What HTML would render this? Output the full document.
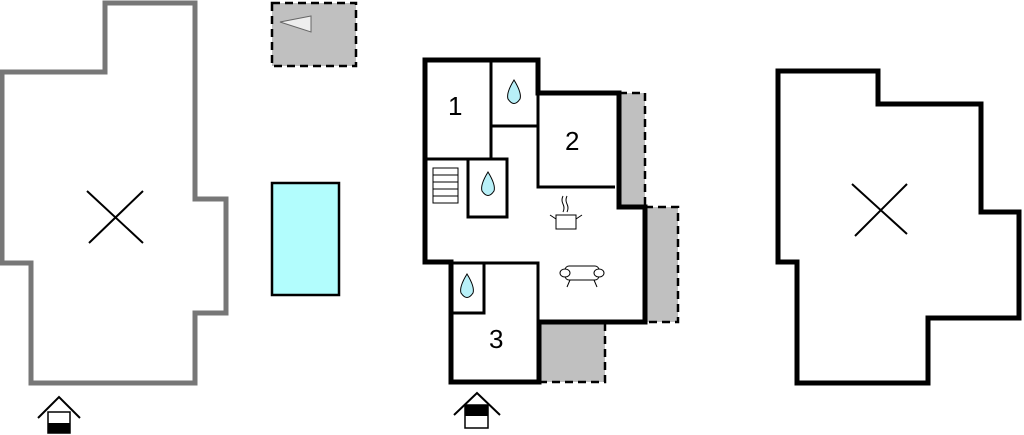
<!DOCTYPE html>
<html><head><style>body{margin:0;background:#fff}svg{display:block}</style></head><body>
<svg width="1024" height="435" viewBox="0 0 1024 435" xmlns="http://www.w3.org/2000/svg" font-family="Liberation Sans, sans-serif">
<!-- left -->
<polygon points="105,3 195,3 195,199 226,199 226,313 195,313 195,383 31,383 31,263 2,263 2,72 105,72" fill="#fff" stroke="#777" stroke-width="5"/>
<path d="M87,191 L143,243 M89,243 L143,191" stroke="#000" stroke-width="2"/>
<rect x="272" y="3" width="84" height="63" fill="#c0c0c0" stroke="#000" stroke-width="2.5" stroke-dasharray="8,5"/>
<polygon points="280,22 311,16 311,32" fill="#eee" stroke="#666" stroke-width="1"/>
<rect x="272" y="183" width="67" height="112" fill="#b2fdfd" stroke="#000" stroke-width="2.5"/>
<path d="M38,418 L59,397 L80,418" fill="none" stroke="#000" stroke-width="2"/>
<rect x="48" y="412" width="22" height="21" fill="#fff" stroke="#000" stroke-width="1.5"/>
<rect x="48" y="423" width="22" height="10" fill="#000"/>
<!-- middle gray -->
<rect x="619" y="93" width="26" height="114" fill="#c0c0c0"/>
<path d="M619,93 H645 V207" fill="none" stroke="#000" stroke-width="2.5" stroke-dasharray="8,5"/>
<rect x="645" y="207" width="33" height="115" fill="#c0c0c0" stroke="#000" stroke-width="2.5" stroke-dasharray="8,5"/>
<rect x="539" y="322" width="66" height="60" fill="#c0c0c0"/>
<path d="M539,382 H605 V322" fill="none" stroke="#000" stroke-width="2.5" stroke-dasharray="8,5"/>
<polygon points="425,60 538,60 538,93 619,93 619,207 645,207 645,322 539,322 539,382 451,382 451,262 425,262" fill="#fff" stroke="#000" stroke-width="5"/>
<rect x="622" y="96" width="21" height="108" fill="#c0c0c0"/>
<g stroke="#000" stroke-width="3" fill="none">
<path d="M491,60 V160 M425,159 H507 V217 H468 V159 M491,126 H538 M538,93 V187 H615 M451,263 H538 V322 M484,263 V313 H451"/>
</g>
<g stroke="#000" stroke-width="1" fill="#fff"><rect x="433" y="168" width="25" height="35"/>
<path d="M433,175 H458 M433,182 H458 M433,189 H458 M433,196 H458"/></g>
<g fill="#b8f0f8" stroke="#000" stroke-width="1">
<path d="M514,80 Q506,93 508,99 Q514,108 520,99 Q522,93 514,80Z"/>
<path d="M488,172 Q480,185 482,191 Q488,200 494,191 Q496,185 488,172Z"/>
<path d="M467,274 Q459,287 461,293 Q467,302 473,293 Q475,287 467,274Z"/>
</g>
<g font-size="26" fill="#000"><text x="448" y="115">1</text><text x="565" y="150">2</text><text x="489" y="348">3</text></g>
<g stroke="#000" stroke-width="1" fill="#fff">
<rect x="556" y="215" width="20" height="14"/><path d="M550,215 L556,219 M582,215 L576,219 M563,196 q-2,4 0,8 q2,4 0,8 M567,196 q-2,4 0,8 q2,4 0,8" fill="none"/>
<rect x="565" y="266" width="34" height="14" rx="4"/><ellipse cx="565" cy="273" rx="5" ry="4"/><ellipse cx="599" cy="273" rx="5" ry="4"/>
<path d="M570,280 L567,287 M594,280 L597,287" fill="none"/>
</g>
<path d="M454,415 L477,393 L500,415" fill="none" stroke="#000" stroke-width="2"/>
<rect x="465" y="405" width="23" height="23" fill="#fff" stroke="#000" stroke-width="1.5"/>
<rect x="465" y="405" width="23" height="11" fill="#000"/>
<!-- right -->
<polygon points="778,71 878,71 878,104 981,104 981,212 1019,212 1019,318 928,318 928,383 797,383 797,262 778,262" fill="#fff" stroke="#000" stroke-width="5"/>
<path d="M852,184 L907,234 M855,236 L907,184" stroke="#000" stroke-width="2"/>
</svg>
</body></html>
